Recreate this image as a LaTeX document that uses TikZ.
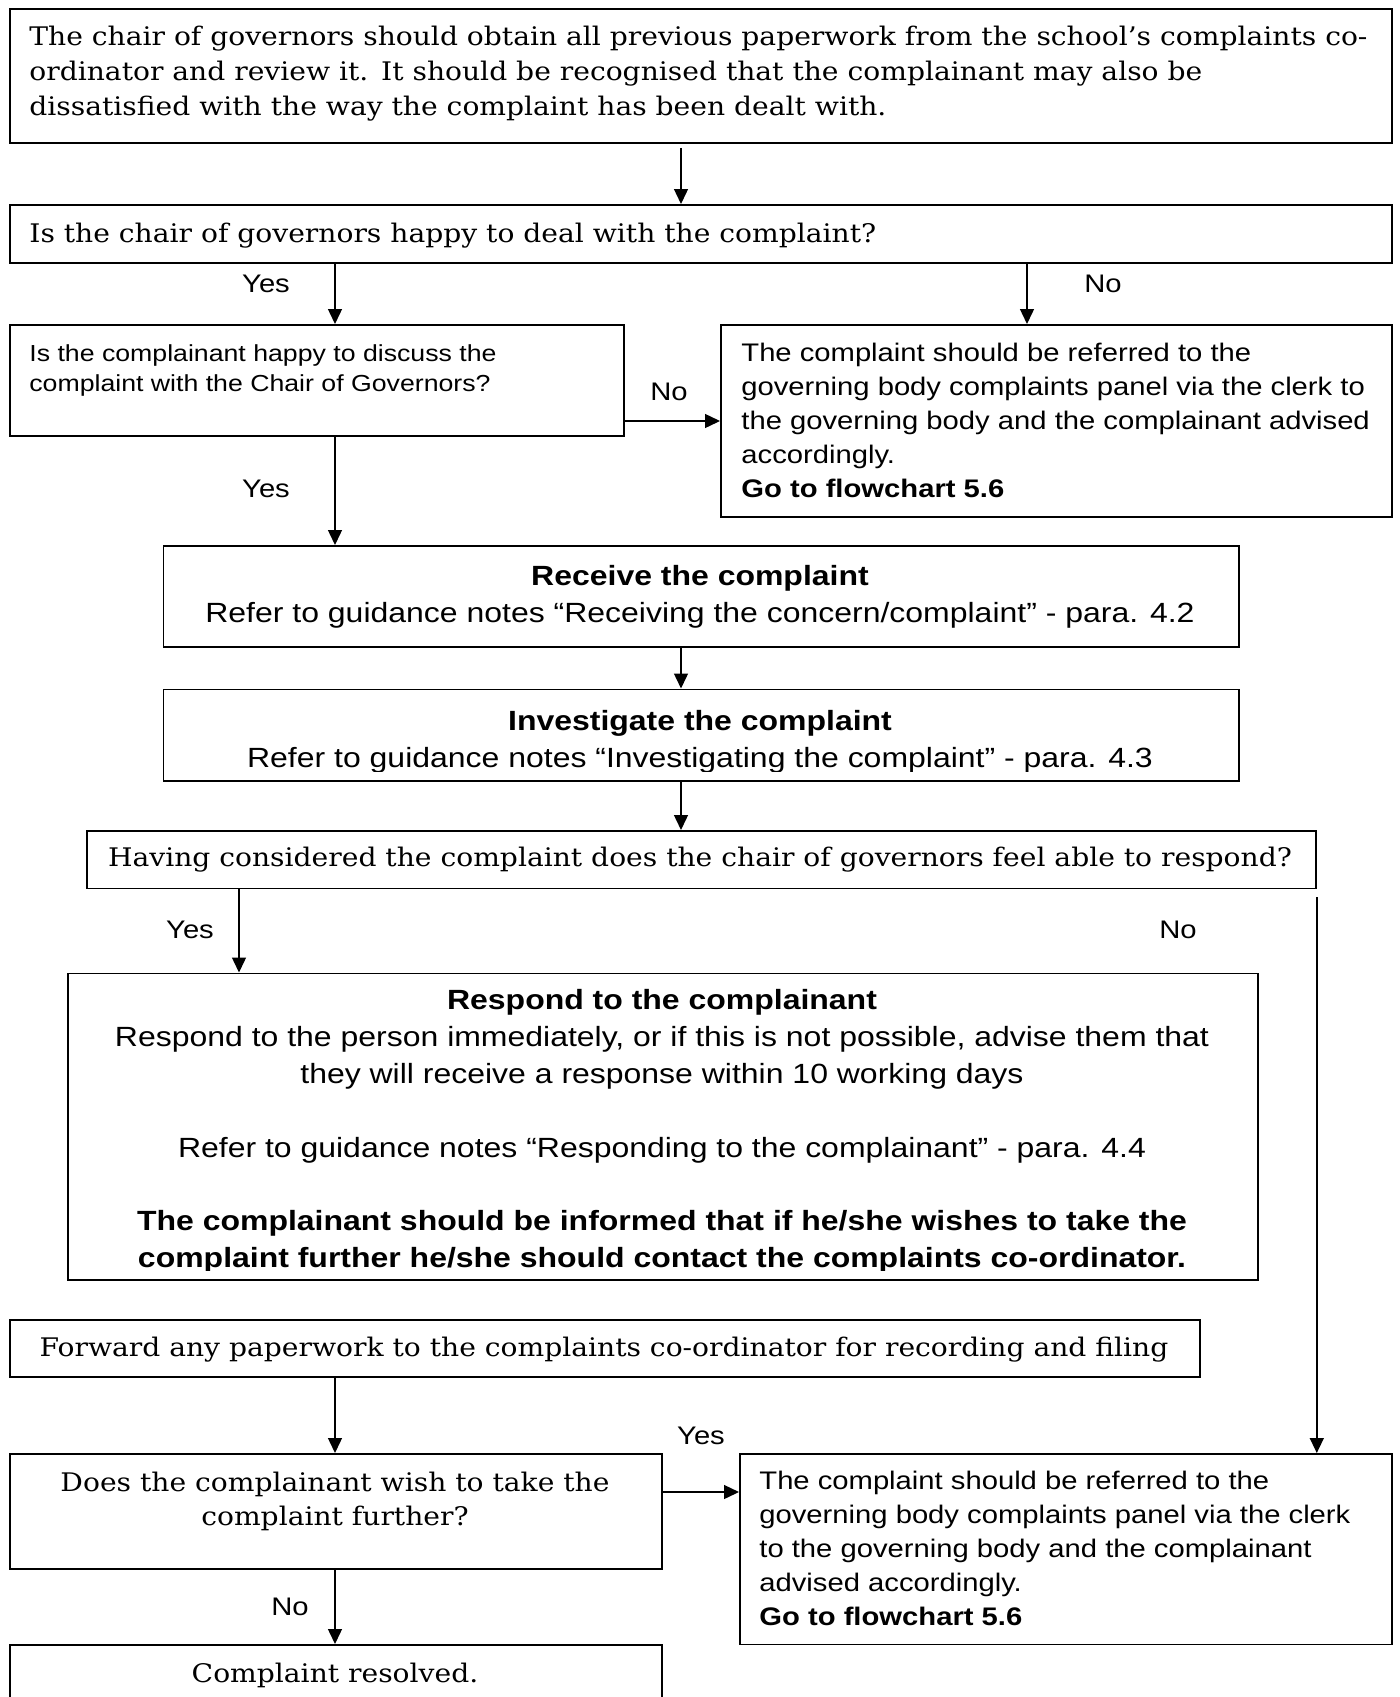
\documentclass[tikz,border=0pt]{standalone}
\usepackage{fontspec}
\setmainfont[FakeStretch=1.1]{DejaVu Serif}
\setsansfont[FakeStretch=1.15]{Liberation Sans}
\usetikzlibrary{arrows.meta}
\begin{document}
\begin{tikzpicture}[
	x=0.5pt,
	y=-0.5pt,
	box/.style={draw, line width=0.9pt, anchor=north west, inner sep=0pt},
	ser/.style={font=\fontsize{12.8}{17.5}\selectfont, inner sep=0pt, align=left},
	sml/.style={font=\sffamily\fontsize{11.6}{15}\selectfont, inner sep=0pt, align=left},
	med/.style={font=\sffamily\fontsize{12.7}{16.9}\selectfont, inner sep=0pt, align=left},
	big/.style={font=\sffamily\fontsize{13.9}{18.5}\selectfont, inner sep=0pt, align=center},
	yn/.style={font=\sffamily\fontsize{12.7}{15}\selectfont, inner sep=0pt, anchor=base},
	arr/.style={line width=0.7pt, -{Triangle[length=7.5pt,width=7pt]}},
	]
\useasboundingbox (0,0) rectangle (1400,1697);
\node [box, minimum width=691pt, minimum height=67pt] (paper) at (9,8) {};
\node [box, minimum width=691pt, minimum height=29pt] (happy) at (9,204) {};
\node [box, minimum width=307pt, minimum height=55.5pt] (discuss) at (9,324) {};
\node [box, minimum width=335.5pt, minimum height=96pt] (panel) at (720,324) {};
\node [box, minimum width=537.75pt, minimum height=50.5pt] (receive) at (162.5,545) {};
\node [box, minimum width=537.75pt, minimum height=45.75pt] (investigate) at (162.5,688.5) {};
\node [box, minimum width=614.5pt, minimum height=28.75pt] (able) at (86,830) {};
\node [box, minimum width=595pt, minimum height=153.25pt] (respond) at (67,972.5) {};
\node [box, minimum width=595pt, minimum height=28.5pt] (forward) at (9,1319) {};
\node [box, minimum width=326pt, minimum height=57.5pt] (further) at (9,1453) {};
\node [box, minimum width=326pt, minimum height=95.25pt] (panelb) at (739,1453) {};
\node [box, minimum width=326pt, minimum height=40pt] (resolved) at (9,1644) {};
\node [ser, anchor=base west] (paper-t) at (29,115) {The chair of governors should obtain all previous paperwork from the school’s complaints co-\\ordinator and review it.\enspace It should be recognised that the complainant may also be\\dissatisfied with the way the complaint has been dealt with.};
\node [ser, anchor=base west] (happy-t) at (29,242) {Is the chair of governors happy to deal with the complaint?};
\node [sml, anchor=base west] (discuss-t) at (29,391) {Is the complainant happy to discuss the\\complaint with the Chair of Governors?};
\node [med, anchor=base west] (panel-t) at (741,497) {The complaint should be referred to the\\governing body complaints panel via the clerk to\\the governing body and the complainant advised\\accordingly.\\\textbf{Go to flowchart 5.6}};
\node [big, anchor=base] (receive-t) at (700,622) {\textbf{Receive the complaint}\\Refer to guidance notes “Receiving the concern/complaint” - para. 4.2};
\begin{scope}
	\clip (investigate.north west) rectangle ([yshift=5pt]investigate.south east);
	\node [big, anchor=base] (investigate-t) at (700,767) {\textbf{Investigate the complaint}\\Refer to guidance notes “Investigating the complaint” - para. 4.3};
\end{scope}
\node [ser, anchor=base] (able-t) at (700,866) {Having considered the complaint does the chair of governors feel able to respond?};
\begin{scope}
	\clip (respond.north west) rectangle ([yshift=5pt]respond.south east);
	\node [big, anchor=base] (respond-t) at (662,1267.5) {\textbf{Respond to the complainant}\\Respond to the person immediately, or if this is not possible, advise them that\\they will receive a response within 10 working days\\[18.25pt]Refer to guidance notes “Responding to the complainant” - para. 4.4\\[18.25pt]\textbf{The complainant should be informed that if he/she wishes to take the}\\\textbf{complaint further he/she should contact the complaints co-ordinator.}};
\end{scope}
\node [ser, anchor=base] (forward-t) at (604,1356) {Forward any paperwork to the complaints co-ordinator for recording and filing};
\node [ser, anchor=base, align=center, font=\fontsize{12.8}{17}\selectfont] (further-t) at (335,1525) {Does the complainant wish to take the\\complaint further?};
\node [med, anchor=base west] (panelb-t) at (759,1625) {The complaint should be referred to the\\governing body complaints panel via the clerk\\to the governing body and the complainant\\advised accordingly.\\\textbf{Go to flowchart 5.6}};
\node [ser, anchor=base] (resolved-t) at (335,1682) {Complaint resolved.};
\node [yn] (yes1) at (266,292) {Yes};
\node [yn] (no1) at (1103,292) {No};
\node [yn] (no2) at (669,400) {No};
\node [yn] (yes2) at (266,497) {Yes};
\node [yn] (yes3) at (190,938) {Yes};
\node [yn] (no3) at (1178,938) {No};
\node [yn] (yes4) at (701,1444) {Yes};
\node [yn] (no4) at (290,1615) {No};
\coordinate (cmid) at (681,0);
\coordinate (cyes) at (335,0);
\coordinate (cno) at (1027,0);
\coordinate (cresp) at (239,0);
\coordinate (rno) at (0,421);
\coordinate (ryes) at (0,1492);
\draw [arr, shorten <=2pt] (paper.south -| cmid) -- (happy.north -| cmid);
\draw [arr] (happy.south -| cyes) -- (discuss.north -| cyes);
\draw [arr] (happy.south -| cno) -- (panel.north -| cno);
\draw [arr] (discuss.east |- rno) -- (panel.west |- rno);
\draw [arr] (discuss.south -| cyes) -- (receive.north -| cyes);
\draw [arr] (receive.south -| cmid) -- (investigate.north -| cmid);
\draw [arr] (investigate.south -| cmid) -- (able.north -| cmid);
\draw [arr] (able.south -| cresp) -- (respond.north -| cresp);
\draw [arr, shorten <=4pt] (able.south east) -- (panelb.north -| able.east);
\draw [arr] (forward.south -| cyes) -- (further.north -| cyes);
\draw [arr] (further.east |- ryes) -- (panelb.west |- ryes);
\draw [arr] (further.south -| cyes) -- (resolved.north -| cyes);
\end{tikzpicture}
\end{document}
